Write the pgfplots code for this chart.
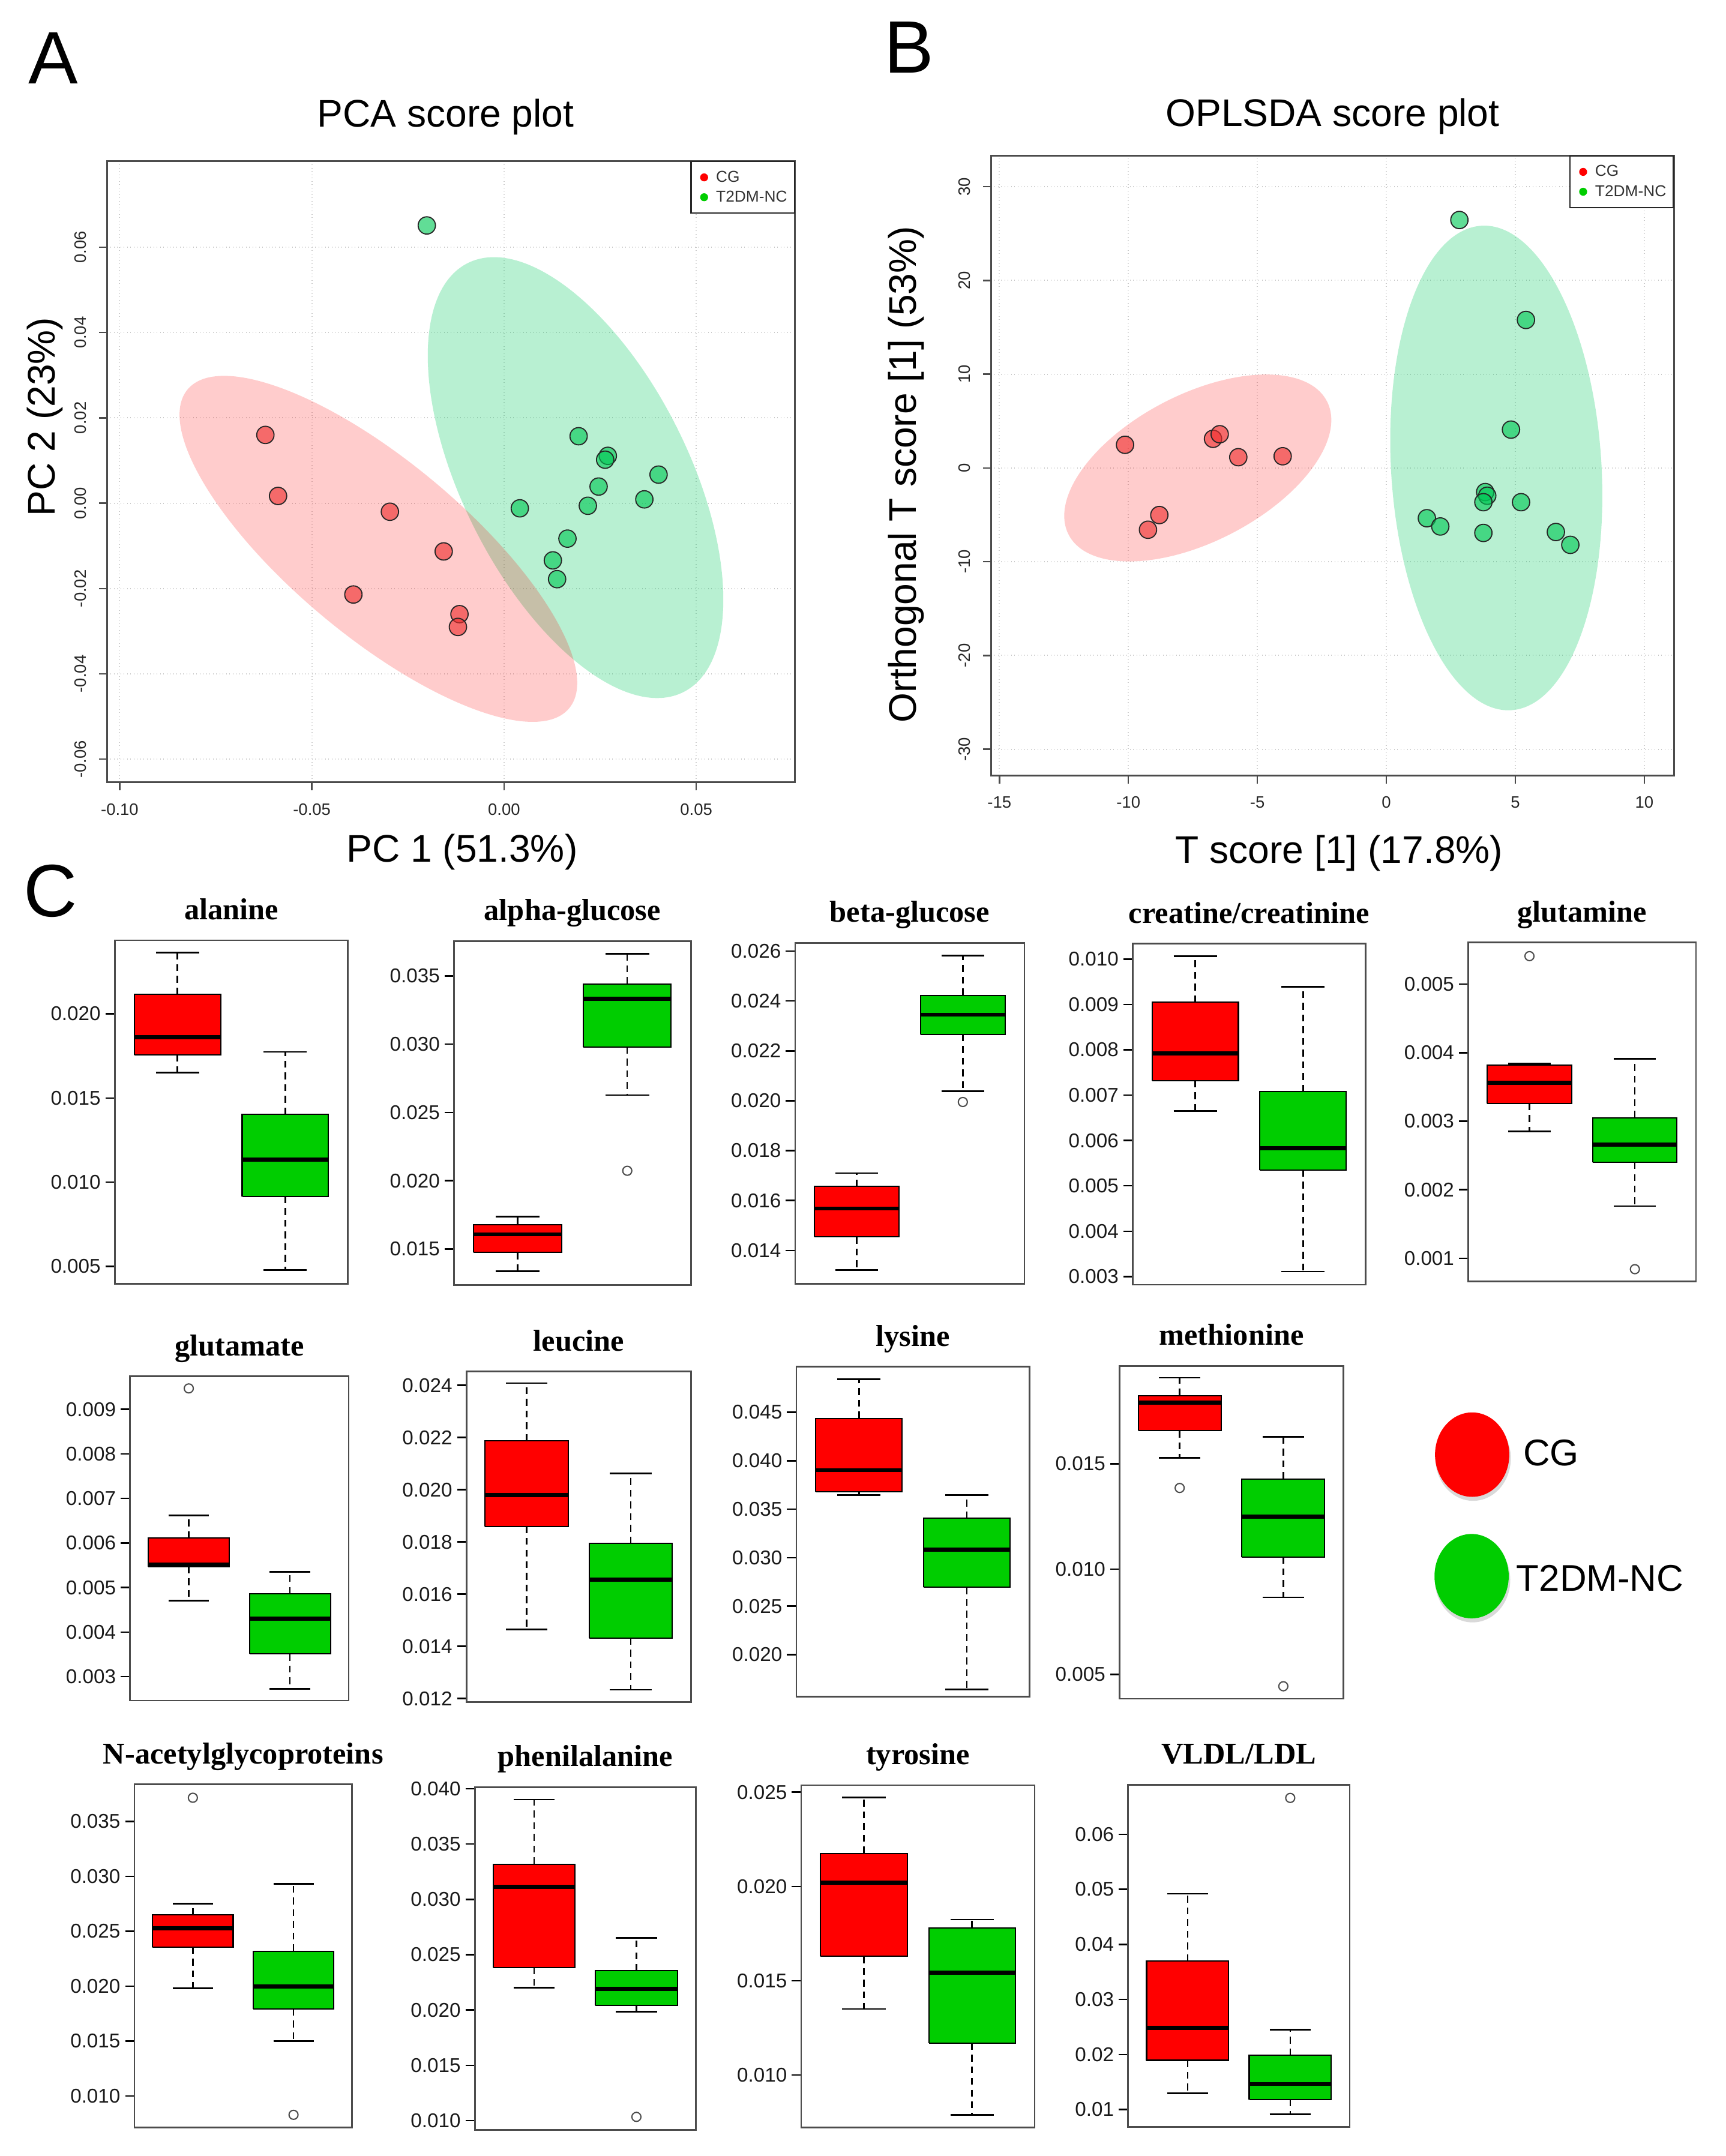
\documentclass[border=0pt]{standalone}
\usepackage{fontspec}
\setmainfont{Liberation Sans}
\newfontfamily\titleserif{Liberation Serif}
\usepackage{pgfplots}
\pgfplotsset{compat=1.18}

\definecolor{cgred}{RGB}{255,0,0}
\definecolor{ncgreen}{RGB}{0,205,0}
\definecolor{ptred}{RGB}{240,45,45}
\definecolor{ptgreen}{RGB}{0,200,85}
\definecolor{ellgreen}{RGB}{0,200,95}
\definecolor{framegray}{RGB}{75,75,75}

\newcommand\fs[1]{\fontsize{#1}{#1}\selectfont}
\newcommand\boxtitle{\titleserif\bfseries\fs{22}}

\pgfplotsset{
  scoreaxis/.style={
    anchor=north west, scale only axis,
    axis line style={draw=framegray, line width=1.3pt},
    tick align=outside, xtick pos=bottom, ytick pos=left, major tick length=6pt,
    tick style={draw=framegray, line width=1.1pt},
    grid=major, grid style={dotted, line width=0.9pt, draw=black!22},
    xticklabel style={font=\fs{12}, text=black!85, yshift=-6pt},
    yticklabel style={font=\fs{12}, text=black!85, rotate=90, anchor=south, inner sep=9pt},
    label style={font=\fs{28}},
    title style={font=\fs{28}, anchor=base, yshift=-6pt},
    scaled ticks=false,
    legend style={at={(1,1)}, anchor=north east, draw=black!85, line width=0.9pt,
      font=\fs{11.5}, text=black!80, inner xsep=4pt, inner ysep=5.5pt,
      nodes={inner sep=1.2pt}, row sep=2.5pt, cells={anchor=west}},
  },
  cgkey/.style={legend image code/.code={%
    \fill[cgred, draw=none] (5.5pt,0pt) circle (2.9pt);
    \path[draw=none, fill=none] (0pt,-3pt) rectangle (13pt,3pt);}},
  nckey/.style={legend image code/.code={%
    \fill[ncgreen, draw=none] (5.5pt,0pt) circle (2.9pt);
    \path[draw=none, fill=none] (0pt,-3pt) rectangle (13pt,3pt);}},
  scorept/.style={only marks, mark=*, mark size=6.3pt, forget plot,
    mark options={draw=black!85, line width=0.8pt, fill=#1, fill opacity=0.62}},
  rboxaxis/.style={
    anchor=north west, scale only axis,
    xmin=0.42, xmax=2.58, xtick=\empty,
    axis line style={draw=black!70, line width=1.2pt},
    tick align=outside, ytick pos=left, major tick length=6.8pt,
    tick style={draw=black, line width=1.1pt},
    yticklabel style={font=\fs{14.5}, text=black!90},
    title style={font=\boxtitle, at={(0.5,1)}, anchor=base, yshift=9pt},
    scaled y ticks=false,
  },
  whisk/.style={draw=black, mark=none, line width=1.1pt, dash pattern=on 5pt off 3.5pt, forget plot},
  capline/.style={draw=black, mark=none, line width=1.2pt, solid, forget plot},
  boxbody/.style={draw=black, mark=none, line width=0.9pt, line join=miter, solid, forget plot},
  medline/.style={draw=black, mark=none, line width=3pt, solid, forget plot},
  outl/.style={only marks, mark=o, mark size=3.3pt,
    mark options={draw=black!70, line width=0.9pt, solid}, forget plot},
}

% R-style box: lower whisker, lower quartile, median, upper quartile, upper whisker
\newcommand\redbox[5]{%
  \addplot[whisk] coordinates {(1,#2) (1,#1)};
  \addplot[whisk] coordinates {(1,#4) (1,#5)};
  \addplot[capline] coordinates {(0.8,#1) (1.2,#1)};
  \addplot[capline] coordinates {(0.8,#5) (1.2,#5)};
  \addplot[boxbody, fill=cgred] coordinates {(0.6,#2) (1.4,#2) (1.4,#4) (0.6,#4) (0.6,#2)};
  \addplot[medline] coordinates {(0.6,#3) (1.4,#3)};
}
\newcommand\greenbox[5]{%
  \addplot[whisk] coordinates {(2,#2) (2,#1)};
  \addplot[whisk] coordinates {(2,#4) (2,#5)};
  \addplot[capline] coordinates {(1.8,#1) (2.2,#1)};
  \addplot[capline] coordinates {(1.8,#5) (2.2,#5)};
  \addplot[boxbody, fill=ncgreen] coordinates {(1.6,#2) (2.4,#2) (2.4,#4) (1.6,#4) (1.6,#2)};
  \addplot[medline] coordinates {(1.6,#3) (2.4,#3)};
}

\begin{document}
\begin{tikzpicture}
\useasboundingbox (0,0) rectangle (1255pt,-1568pt);

% panel letters
\node[anchor=base west, inner sep=0, font=\fs{54}] at (20.5pt,-61pt) {A};
\node[anchor=base west, inner sep=0, font=\fs{54}] at (643pt,-53.2pt) {B};
\node[anchor=base west, inner sep=0, font=\fs{54}] at (17pt,-666.5pt) {C};

% ---------------- A: PCA scores ----------------
\begin{axis}[scoreaxis, at={(78.1pt,-117.1pt)}, width=500pt, height=451.8pt,
  xmin=-0.1032, xmax=0.0757, ymin=-0.0654, ymax=0.0802,
  xtick={-0.10,-0.05,0,0.05}, xticklabels={-0.10,-0.05,0.00,0.05},
  ytick={-0.06,-0.04,-0.02,0,0.02,0.04,0.06},
  yticklabels={-0.06,-0.04,-0.02,0.00,0.02,0.04,0.06},
  title={PCA score plot},
  title style={at={(axis description cs:0.4918,1.0546)}},
  xlabel={PC 1 (51.3\%)},
  xlabel style={at={(axis description cs:0.5158,-0.1288)}, anchor=base},
  ylabel={PC 2 (23\%)},
  ylabel style={at={(axis description cs:-0.0762,0.5885)}, anchor=base},
]
\fill[ellgreen, fill opacity=0.28, rotate around={26.7:(axis cs:0.0186,0.0060)}]
  (axis cs:0.0186,0.0060) ellipse [x radius=82.2pt, y radius=174.6pt];
\fill[cgred, fill opacity=0.2, rotate around={-39.9:(axis cs:-0.0327,-0.0107)}]
  (axis cs:-0.0327,-0.0107) ellipse [x radius=180.8pt, y radius=63.5pt];
\addlegendimage{cgkey}
\addlegendentry{CG}
\addlegendimage{nckey}
\addlegendentry{T2DM-NC}
\addplot[scorept=ptred] coordinates {
  (-0.0621,0.0160) (-0.0588,0.0017) (-0.0297,-0.0020) (-0.0157,-0.0113)
  (-0.0392,-0.0214) (-0.0116,-0.0260) (-0.0120,-0.0290)};
\addplot[scorept=ptgreen] coordinates {
  (-0.0201,0.0651) (0.0194,0.0157) (0.0270,0.0111) (0.0263,0.0102)
  (0.0402,0.0067) (0.0246,0.0039) (0.0365,0.0009) (0.0218,-0.0006)
  (0.0041,-0.0012) (0.0165,-0.0083) (0.0127,-0.0134) (0.0138,-0.0178)};
\end{axis}

% ---------------- B: OPLS-DA scores ----------------
\begin{axis}[scoreaxis, at={(720.9pt,-113.1pt)}, width=496.4pt, height=450.8pt,
  xmin=-15.31, xmax=11.15, ymin=-32.79, ymax=33.33,
  xtick={-15,-10,-5,0,5,10}, xticklabels={-15,-10,-5,0,5,10},
  ytick={-30,-20,-10,0,10,20,30}, yticklabels={-30,-20,-10,0,10,20,30},
  title={OPLSDA score plot},
  title style={at={(axis description cs:0.4998,1.0468)}},
  xlabel={T score [1] (17.8\%)},
  xlabel style={at={(axis description cs:0.5095,-0.1420)}, anchor=base},
  ylabel={Orthogonal T score [1] (53\%)},
  ylabel style={at={(axis description cs:-0.1106,0.4856)}, anchor=base},
]
\fill[cgred, fill opacity=0.2, rotate around={27.3:(axis cs:-7.31,0)}]
  (axis cs:-7.31,0) ellipse [x radius=105.7pt, y radius=53.6pt];
\fill[ellgreen, fill opacity=0.28, rotate around={3.5:(axis cs:4.26,0)}]
  (axis cs:4.26,0) ellipse [x radius=76.5pt, y radius=176.5pt];
\addlegendimage{cgkey}
\addlegendentry{CG}
\addlegendimage{nckey}
\addlegendentry{T2DM-NC}
\addplot[scorept=ptred] coordinates {
  (-10.13,2.47) (-6.72,3.11) (-6.46,3.60) (-5.74,1.15)
  (-4.02,1.25) (-8.80,-5.02) (-9.24,-6.59)};
\addplot[scorept=ptgreen] coordinates {
  (2.83,26.45) (5.41,15.79) (4.83,4.09) (3.83,-2.57) (3.91,-2.96)
  (3.76,-3.65) (5.22,-3.65) (1.57,-5.36) (2.09,-6.24) (3.76,-6.93)
  (6.57,-6.83) (7.13,-8.20)};
\end{axis}

% ---------------- C: metabolite box plots ----------------
\begin{axis}[rboxaxis, at={(83.5pt,-683.8pt)}, width=169.5pt, height=249.9pt,
  ymin=0.00396, ymax=0.02437,
  ytick={0.005,0.010,0.015,0.020}, yticklabels={0.005,0.010,0.015,0.020},
  title={alanine}]
\redbox{0.0165}{0.01757}{0.0186}{0.02115}{0.02364}
\greenbox{0.00478}{0.00915}{0.01133}{0.01403}{0.01774}
\end{axis}

\begin{axis}[rboxaxis, at={(330.1pt,-684.4pt)}, width=172.3pt, height=250.3pt,
  ymin=0.01235, ymax=0.03755,
  ytick={0.015,0.020,0.025,0.030,0.035}, yticklabels={0.015,0.020,0.025,0.030,0.035},
  title={alpha-glucose}]
\redbox{0.01339}{0.01475}{0.01608}{0.01680}{0.01739}
\greenbox{0.02627}{0.02980}{0.03333}{0.03441}{0.03661}
\addplot[outl] coordinates {(2,0.02073)};
\end{axis}

\begin{axis}[rboxaxis, at={(578.2pt,-685.7pt)}, width=166.7pt, height=248.0pt,
  ymin=0.01266, ymax=0.02633,
  ytick={0.014,0.016,0.018,0.020,0.022,0.024,0.026}, yticklabels={0.014,0.016,0.018,0.020,0.022,0.024,0.026},
  title={beta-glucose}]
\redbox{0.01321}{0.01454}{0.01568}{0.01656}{0.0171}
\greenbox{0.02038}{0.02266}{0.02345}{0.02423}{0.02582}
\addplot[outl] coordinates {(2,0.01995)};
\end{axis}

\begin{axis}[rboxaxis, at={(823.7pt,-686.3pt)}, width=169.3pt, height=248.0pt,
  ymin=0.00282, ymax=0.01034,
  ytick={0.003,0.004,0.005,0.006,0.007,0.008,0.009,0.010}, yticklabels={0.003,0.004,0.005,0.006,0.007,0.008,0.009,0.010},
  title={creatine/creatinine}]
\redbox{0.00665}{0.00732}{0.00792}{0.00905}{0.01006}
\greenbox{0.00311}{0.00535}{0.00583}{0.00708}{0.00939}
\end{axis}

\begin{axis}[rboxaxis, at={(1067.7pt,-685.4pt)}, width=165.6pt, height=246.6pt,
  ymin=0.00066, ymax=0.00561,
  ytick={0.001,0.002,0.003,0.004,0.005}, yticklabels={0.001,0.002,0.003,0.004,0.005},
  title={glutamine}]
\redbox{0.00285}{0.00326}{0.00356}{0.00382}{0.00384}
\greenbox{0.00176}{0.00240}{0.00266}{0.00305}{0.00391}
\addplot[outl] coordinates {(1,0.00541) (2,0.00084)};
\end{axis}

\begin{axis}[rboxaxis, at={(94.6pt,-1001.0pt)}, width=158.9pt, height=235.8pt,
  ymin=0.00246, ymax=0.00974,
  ytick={0.003,0.004,0.005,0.006,0.007,0.008,0.009}, yticklabels={0.003,0.004,0.005,0.006,0.007,0.008,0.009},
  title={glutamate}]
\redbox{0.00470}{0.00547}{0.00552}{0.00611}{0.00662}
\greenbox{0.00272}{0.00351}{0.00430}{0.00486}{0.00535}
\addplot[outl] coordinates {(1,0.00947)};
\end{axis}

\begin{axis}[rboxaxis, at={(339.2pt,-997.4pt)}, width=163.3pt, height=240.4pt,
  ymin=0.01187, ymax=0.02453,
  ytick={0.012,0.014,0.016,0.018,0.020,0.022,0.024}, yticklabels={0.012,0.014,0.016,0.018,0.020,0.022,0.024},
  title={leucine}]
\redbox{0.01465}{0.01860}{0.01980}{0.02187}{0.02408}
\greenbox{0.01234}{0.01432}{0.01655}{0.01794}{0.02063}
\end{axis}

\begin{axis}[rboxaxis, at={(579.1pt,-994.0pt)}, width=169.5pt, height=240.0pt,
  ymin=0.01565, ymax=0.04969,
  ytick={0.020,0.025,0.030,0.035,0.040,0.045}, yticklabels={0.020,0.025,0.030,0.035,0.040,0.045},
  title={lysine}]
\redbox{0.03647}{0.03678}{0.03903}{0.04437}{0.04841}
\greenbox{0.01642}{0.02694}{0.03081}{0.03405}{0.03647}
\end{axis}

\begin{axis}[rboxaxis, at={(814.1pt,-993.4pt)}, width=162.8pt, height=242.0pt,
  ymin=0.00385, ymax=0.01964,
  ytick={0.005,0.010,0.015}, yticklabels={0.005,0.010,0.015},
  title={methionine}]
\redbox{0.01529}{0.01657}{0.01790}{0.01823}{0.01908}
\greenbox{0.00866}{0.01058}{0.01248}{0.01428}{0.01627}
\addplot[outl] coordinates {(1,0.01385) (2,0.00444)};
\end{axis}

\begin{axis}[rboxaxis, at={(97.8pt,-1297.7pt)}, width=158.1pt, height=249.5pt,
  ymin=0.00713, ymax=0.03838,
  ytick={0.010,0.015,0.020,0.025,0.030,0.035}, yticklabels={0.010,0.015,0.020,0.025,0.030,0.035},
  title={N-acetylglycoproteins}]
\redbox{0.01980}{0.02355}{0.02525}{0.02650}{0.02752}
\greenbox{0.01498}{0.01792}{0.01998}{0.02319}{0.02931}
\addplot[outl] coordinates {(1,0.03716) (2,0.00828)};
\end{axis}

\begin{axis}[rboxaxis, at={(345.3pt,-1299.7pt)}, width=160.6pt, height=249.4pt,
  ymin=0.00915, ymax=0.04015,
  ytick={0.010,0.015,0.020,0.025,0.030,0.035,0.040}, yticklabels={0.010,0.015,0.020,0.025,0.030,0.035,0.040},
  title={phenilalanine}]
\redbox{0.02203}{0.02386}{0.03115}{0.03319}{0.03903}
\greenbox{0.01984}{0.02043}{0.02189}{0.02354}{0.02651}
\addplot[outl] coordinates {(2,0.01034)};
\end{axis}

\begin{axis}[rboxaxis, at={(582.6pt,-1298.3pt)}, width=169.8pt, height=248.9pt,
  ymin=0.00722, ymax=0.02537,
  ytick={0.010,0.015,0.020,0.025}, yticklabels={0.010,0.015,0.020,0.025},
  title={tyrosine}]
\redbox{0.01350}{0.01629}{0.02020}{0.02175}{0.02471}
\greenbox{0.00789}{0.01170}{0.01542}{0.01781}{0.01824}
\end{axis}

\begin{axis}[rboxaxis, at={(820.3pt,-1298.0pt)}, width=161.2pt, height=248.9pt,
  ymin=0.00682, ymax=0.06899,
  ytick={0.01,0.02,0.03,0.04,0.05,0.06}, yticklabels={0.01,0.02,0.03,0.04,0.05,0.06},
  title={VLDL/LDL}]
\redbox{0.01293}{0.01894}{0.02481}{0.03698}{0.04920}
\greenbox{0.00917}{0.01181}{0.01464}{0.01987}{0.02452}
\addplot[outl] coordinates {(2,0.06660)};
\end{axis}

% group key for the box plots
\fill[black, opacity=0.15] (1071.2pt,-1060.6pt) ellipse [x radius=27.4pt, y radius=30.9pt];
\fill[cgred] (1070.5pt,-1057.9pt) ellipse [x radius=27pt, y radius=30.7pt];
\fill[black, opacity=0.15] (1070.8pt,-1149.0pt) ellipse [x radius=27.4pt, y radius=30.9pt];
\fill[ncgreen] (1070.1pt,-1146.3pt) ellipse [x radius=27pt, y radius=30.7pt];
\node[anchor=base west, inner sep=0, font=\fs{27}] at (1107.5pt,-1066pt) {CG};
\node[anchor=base west, inner sep=0, font=\fs{27}] at (1102.5pt,-1157pt) {T2DM-NC};

\end{tikzpicture}
\end{document}
